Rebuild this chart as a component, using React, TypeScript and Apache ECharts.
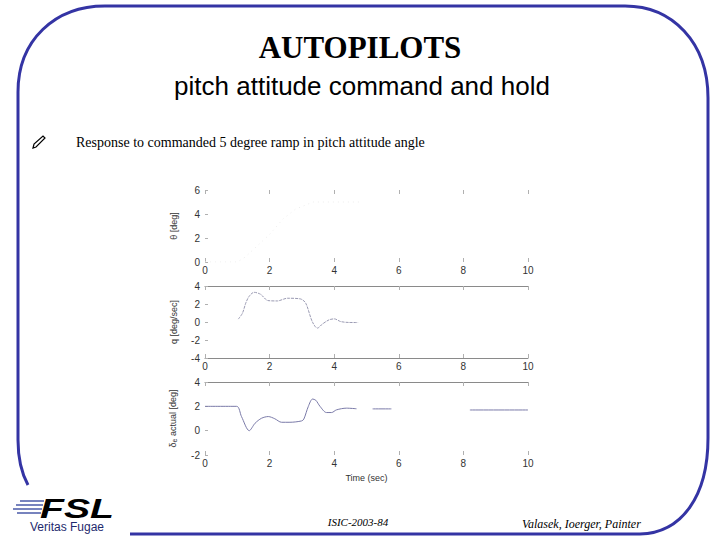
import React, { useEffect, useRef } from "react";
import * as echarts from "echarts";

// ---- data ----
const xTicks = [0, 2, 4, 6, 8, 10];

const thetaTime = [0, 1.0, 1.24, 1.6, 2.0, 2.42, 2.8, 3.35, 3.8, 4.3, 4.8];
const thetaVals = [0, 0, 0.4, 1.3, 2.3, 3.6, 4.4, 5.0, 5.0, 5.0, 5.0];

const qTime = [1.03, 1.16, 1.26, 1.36, 1.52, 1.72, 1.95, 2.24, 2.55, 2.96, 3.12, 3.32, 3.48, 3.63, 3.84, 4.0, 4.2, 4.45, 4.74];
const qVals = [0.32, 0.98, 2.08, 2.82, 3.3, 3.08, 2.38, 2.34, 2.64, 2.56, 2.08, 0.05, -0.68, -0.24, 0.24, 0.35, 0.05, -0.05, -0.06];

const deTime = [0, 0.98, 1.13, 1.37, 1.55, 1.75, 1.96, 2.16, 2.37, 2.63, 2.99, 3.06, 3.2, 3.33, 3.43, 3.56, 3.76, 3.92, 4.07, 4.38, 4.69, 4.95, 5.19, 5.77, 6.0, 8.2, 10];
const deVals: (number | null)[] = [2.0, 2.0, 1.16, 0.0, 0.61, 1.02, 1.16, 0.98, 0.69, 0.69, 0.8, 0.95, 2.0, 2.6, 2.5, 2.0, 1.49, 1.49, 1.71, 1.85, 1.8, null, 1.79, 1.79, null, 1.7, 1.7];

const pair = (t: number[], v: (number | null)[]) => t.map((x, i) => [x, v[i] === null ? "-" : v[i]]);

const framePath =
  "M 28 485 C 22 474 18 460 18 440 L 18 92 C 18 40 55 6 105 6 L 625 6 C 672 6 708 42 708 98 L 708 438 C 708 496 682 533 640 534 L 130 534";

let registered = false;

export default function App() {
  const ref = useRef<HTMLDivElement>(null);
  useEffect(() => {
    if (!registered) {
      echarts.graphic.registerShape("frame", echarts.graphic.extendPath(framePath, {}) as any);
      registered = true;
    }
    const chart = echarts.init(ref.current!, undefined, { renderer: "svg" });
    const gridsPx = [
      { top: 190, height: 72 },
      { top: 286, height: 72 },
      { top: 382, height: 73 },
    ];
    const yRanges = [
      { min: 0, max: 6, interval: 2, name: "θ [deg]" },
      { min: -4, max: 4, interval: 2, name: "q [deg/sec]" },
      { min: -2, max: 4, interval: 2, name: "{a|δ}{s|e}{a| actual [deg]}" },
    ];
    const tickCol = "#b0b0b0";
    const lineCol = "#8a8a8a";
    const labelStyle = { fontSize: 10, color: "#333", fontFamily: "Liberation Sans, Arial, sans-serif" };
    const xAxes: any[] = [];
    const yAxes: any[] = [];
    gridsPx.forEach((g, i) => {
      xAxes.push({
        type: "value",
        gridIndex: i,
        min: 0,
        max: 10,
        interval: 2,
        position: "bottom",
        axisLine: { show: i === 1, onZero: false, lineStyle: { color: lineCol, width: 1 } },
        axisTick: { show: true, inside: true, length: 4, lineStyle: { color: tickCol } },
        axisLabel: { ...labelStyle, margin: 3 },
        splitLine: { show: false },
        name: i === 2 ? "Time (sec)" : "",
        nameLocation: "middle",
        nameGap: 18,
        nameTextStyle: { ...labelStyle, fontSize: 9 },
      });
      xAxes.push({
        type: "value",
        gridIndex: i,
        min: 0,
        max: 10,
        interval: 2,
        position: "top",
        axisLine: { show: i > 0, onZero: false, lineStyle: { color: lineCol, width: 1 } },
        axisTick: { show: true, inside: true, length: 4, lineStyle: { color: tickCol } },
        axisLabel: { show: false },
        splitLine: { show: false },
      });
      const r = yRanges[i];
      yAxes.push({
        type: "value",
        gridIndex: i,
        min: r.min,
        max: r.max,
        interval: r.interval,
        position: "left",
        axisLine: { show: false, onZero: false },
        axisTick: { show: true, inside: true, length: 3, lineStyle: { color: tickCol } },
        axisLabel: { ...labelStyle, margin: 5 },
        splitLine: { show: false },
        name: r.name,
        nameLocation: "middle",
        nameRotate: 90,
        nameGap: 27,
        nameTextStyle: {
          ...labelStyle,
          fontSize: 9,
          rich: {
            a: { fontSize: 9, color: "#333", fontFamily: "Liberation Sans, Arial, sans-serif" },
            s: { fontSize: 7, color: "#333", verticalAlign: "bottom", padding: [4, 0, 0, 0], fontFamily: "Liberation Sans, Arial, sans-serif" },
          },
        },
      });
    });

    const sansFont = "Liberation Sans, Arial, sans-serif";
    const serifFont = "Liberation Serif, Times New Roman, serif";
    const text = (t: string, x: number, y: number, font: string, fill: string, align = "center", extra: any = {}) => ({
      type: "text",
      silent: true,
      style: { text: t, x, y, font, fill, align, textAlign: align, verticalAlign: "middle", textVerticalAlign: "middle", ...extra },
    });
    const navyGrad = {
      type: "linear",
      x: 0,
      y: 0,
      x2: 0,
      y2: 1,
      colorStops: [
        { offset: 0, color: "#6a78b8" },
        { offset: 0.5, color: "#1c2a78" },
        { offset: 1, color: "#0e1650" },
      ],
    };

    const speedLines = [
      [20, 501, 44],
      [16, 505, 43],
      [13, 509, 42],
      [17, 513, 41],
    ].map(([x1, y, x2]) => ({
      type: "line",
      silent: true,
      shape: { x1, y1: y, x2, y2: y },
      style: { stroke: "#4a5aa8", lineWidth: 1.5 },
    }));

    chart.setOption({
      animation: false,
      backgroundColor: "#ffffff",
      grid: gridsPx.map((g) => ({ left: 205, width: 323, top: g.top, height: g.height, containLabel: false })),
      xAxis: xAxes,
      yAxis: yAxes,
      series: [
        {
          type: "line",
          xAxisIndex: 0,
          yAxisIndex: 0,
          data: pair(thetaTime, thetaVals),
          showSymbol: false,
          lineStyle: { color: "#ececec", width: 1, type: [1, 4] },
        },
        {
          type: "line",
          xAxisIndex: 2,
          yAxisIndex: 1,
          data: pair(qTime, qVals),
          showSymbol: false,
          smooth: 0.3,
          lineStyle: { color: "#9a9ab2", width: 1, type: [3, 1] },
        },
        {
          type: "line",
          xAxisIndex: 4,
          yAxisIndex: 2,
          data: pair(deTime, deVals),
          showSymbol: false,
          smooth: 0.3,
          connectNulls: false,
          lineStyle: { color: "#7a7aa8", width: 1 },
        },
      ],
      graphic: [
        {
          type: "frame",
          silent: true,
          x: 0,
          y: 0,
          scaleX: 1,
          scaleY: 1,
          style: { fill: "none", stroke: "#3434a4", lineWidth: 3 },
        },
        text("AUTOPILOTS", 360, 47, `bold 31px ${serifFont}`, "#000"),
        text("pitch attitude command and hold", 362, 86, `26px ${sansFont}`, "#000"),
        {
          type: "polygon",
          silent: true,
          shape: { points: [[33, 148], [34, 144], [43, 136], [45, 138], [36, 147]] },
          style: { fill: "#fff", stroke: "#000", lineWidth: 1.2 },
        },
        text("Response to commanded 5 degree ramp in pitch attitude angle", 76, 142, `14px ${serifFont}`, "#000", "left"),
        text("ISIC-2003-84", 358, 522, `italic 11px ${serifFont}`, "#000"),
        text("Valasek, Ioerger, Painter", 522, 524, `italic 12px ${serifFont}`, "#000", "left"),
        ...speedLines,
        {
          type: "text",
          silent: true,
          x: 40,
          y: 508,
          scaleX: 1.4,
          scaleY: 1,
          style: {
            text: "FSL",
            x: 0,
            y: 0,
            font: `italic bold 28px ${sansFont}`,
            fill: navyGrad,
            align: "left",
            textAlign: "left",
            verticalAlign: "middle",
            textVerticalAlign: "middle",
          },
        },
        text("Veritas Fugae", 67, 527, `12px ${sansFont}`, "#1e2a6e"),
      ],
    });
    return () => chart.dispose();
  }, []);
  return <div ref={ref} style={{ position: "fixed", left: 0, top: 0, width: 720, height: 540 }} />;
}
